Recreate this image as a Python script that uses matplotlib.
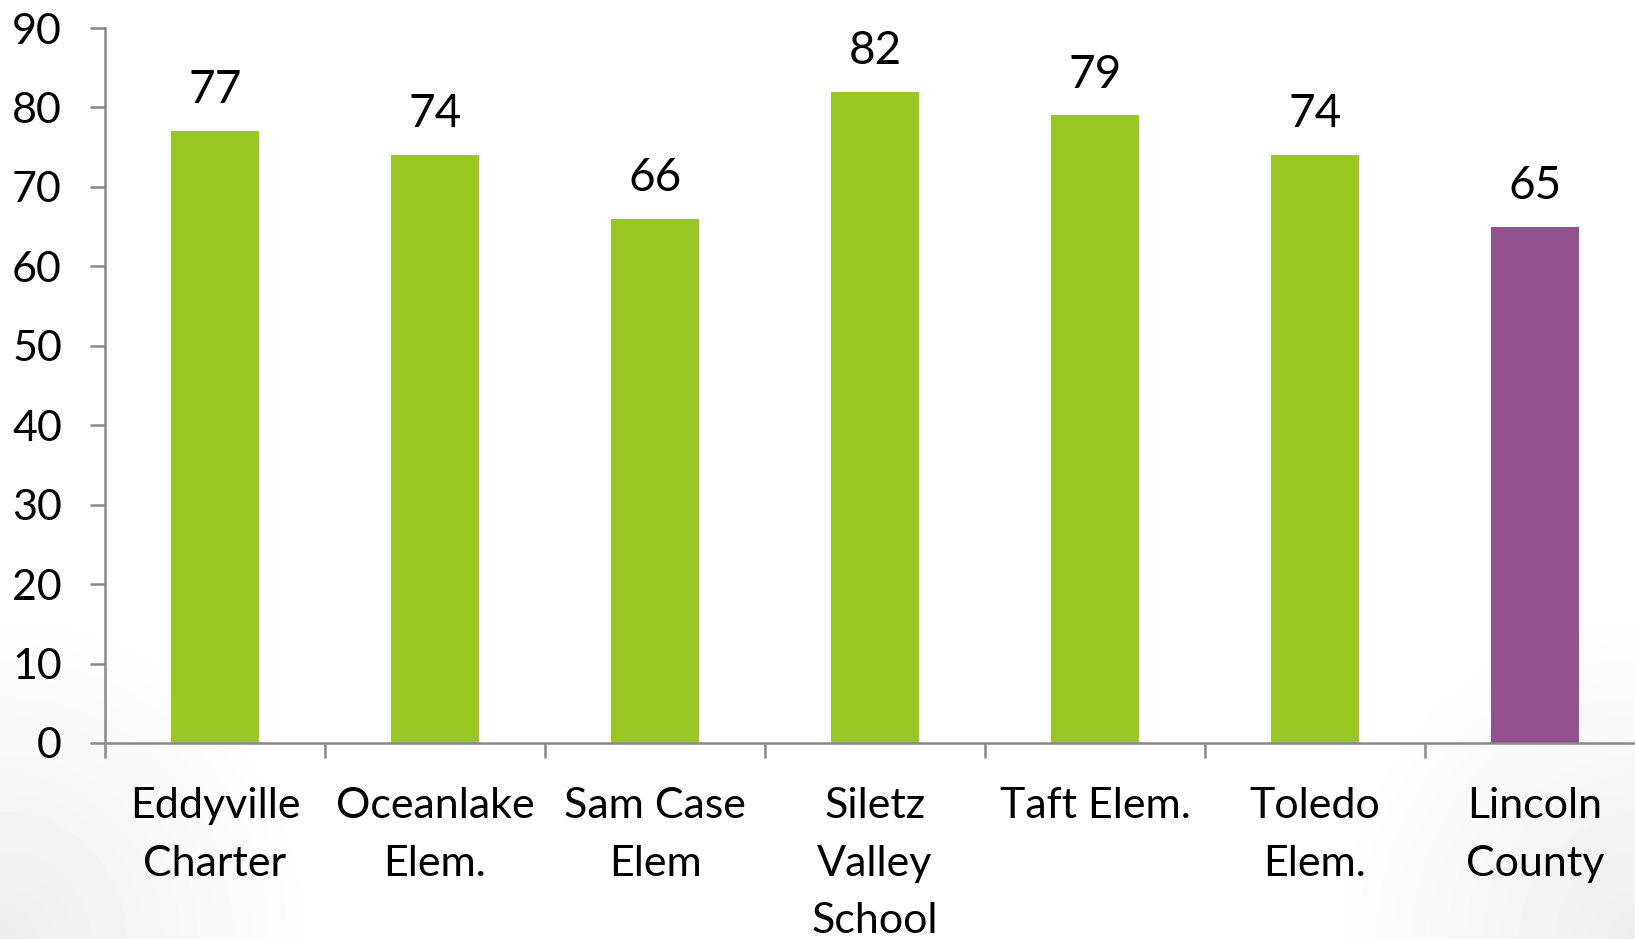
import numpy as np
import matplotlib
matplotlib.use("Agg")
import matplotlib.pyplot as plt

schools = ["Eddyville\nCharter", "Oceanlake\nElem.", "Sam Case\nElem", "Siletz\nValley\nSchool",
           "Taft Elem.", "Toledo\nElem.", "Lincoln\nCounty"]
scores = [77, 74, 66, 82, 79, 74, 65]
colors = ["#99c724"] * 6 + ["#93528f"]

plt.rcParams['font.family'] = ['Lato', 'DejaVu Sans']

fig = plt.figure(figsize=(16.35, 9.39), dpi=100)

# faint grey shading in the lower corners, like the slide background
bg = fig.add_axes([0, 0, 1, 1], zorder=-2)
h, w = 94, 164
yy, xx = np.mgrid[0:h, 0:w]
d_left = np.hypot(xx / w * 3.0, (h - yy) / h * 1.6)
d_right = np.hypot((w - xx) / w * 3.0, (h - yy) / h * 1.6)
shade = np.clip(0.07 - np.minimum(d_left, d_right) * 0.12, 0, None)
bg.imshow(1 - shade, cmap="gray", vmin=0, vmax=1, aspect="auto",
          extent=[0, 1, 0, 1], interpolation="bilinear")
bg.axis("off")

ax = fig.add_axes([105 / 1635, 196 / 939, 1540 / 1635, 715 / 939])
ax.patch.set_alpha(0)
x = np.arange(len(schools))
bars = ax.bar(x, scores, width=0.4, color=colors, zorder=2)
for xi, v in zip(x, scores):
    ax.text(xi, v + 2.5, str(v), ha="center", va="bottom", fontsize=33)

ax.set_xlim(-0.5, len(schools) - 0.5)
ax.set_ylim(0, 90)
ax.set_yticks(range(0, 91, 10))
ax.tick_params(axis="y", labelsize=31, length=11, width=1.8, color="#898989", pad=20)

ax.set_xticks(x)
ax.set_xticklabels(schools, fontsize=31, linespacing=1.62)
ax.set_xticks(np.arange(-0.5, len(schools)), minor=True)
ax.tick_params(axis="x", which="major", length=0, pad=32)
ax.tick_params(axis="x", which="minor", length=11, width=1.8, color="#898989")

for s in ["top", "right"]:
    ax.spines[s].set_visible(False)
for s in ["left", "bottom"]:
    ax.spines[s].set_color("#898989")
    ax.spines[s].set_linewidth(1.8)

fig.savefig("out.png", dpi=100)
